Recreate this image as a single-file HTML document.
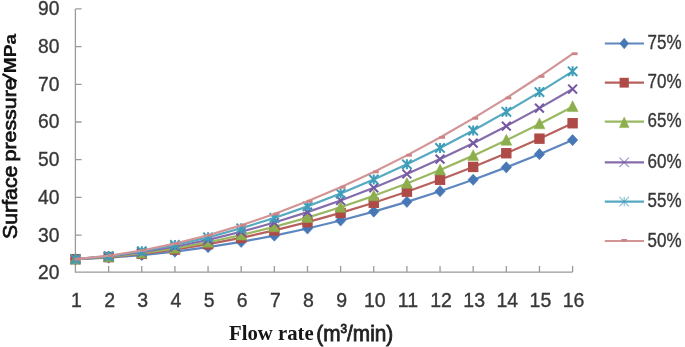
<!DOCTYPE html>
<html><head><meta charset="utf-8"><style>
html,body{margin:0;padding:0;background:#fff;}
svg{display:block;font-family:"Liberation Sans",sans-serif;filter:blur(0.6px);}
</style></head><body>
<svg width="685" height="347" viewBox="0 0 685 347">
<rect width="685" height="347" fill="#fff"/>
<path d="M75.4 8.90V272.1H572.60" stroke="#9a9a9a" stroke-width="1.3" fill="none"/>
<path d="M75.4 235.10h6.2M75.4 197.40h6.2M75.4 159.70h6.2M75.4 122.00h6.2M75.4 84.30h6.2M75.4 46.60h6.2M75.4 8.90h6.2M108.64 272.1v-6M141.78 272.1v-6M174.92 272.1v-6M208.06 272.1v-6M241.20 272.1v-6M274.34 272.1v-6M307.48 272.1v-6M340.62 272.1v-6M373.76 272.1v-6M406.90 272.1v-6M440.04 272.1v-6M473.18 272.1v-6M506.32 272.1v-6M539.46 272.1v-6M572.60 272.1v-6" stroke="#9a9a9a" stroke-width="1.3" fill="none"/>
<polyline points="75.50,259.21 108.64,257.63 141.78,255.08 174.92,251.62 208.06,247.18 241.20,241.87 274.34,235.63 307.48,228.52 340.62,220.51 373.76,211.60 406.90,201.86 440.04,191.21 473.18,179.74 506.32,167.37 539.46,154.17 572.60,140.10" stroke="#5d87be" stroke-width="2.2" fill="none" stroke-linejoin="round"/>
<path d="M75.50 253.61L80.70 259.21L75.50 264.81L70.30 259.21Z" fill="#4777B5" stroke="#4777B5" stroke-width="0.6" stroke-linejoin="round"/>
<path d="M108.64 252.03L113.84 257.63L108.64 263.23L103.44 257.63Z" fill="#4777B5" stroke="#4777B5" stroke-width="0.6" stroke-linejoin="round"/>
<path d="M141.78 249.48L146.98 255.08L141.78 260.68L136.58 255.08Z" fill="#4777B5" stroke="#4777B5" stroke-width="0.6" stroke-linejoin="round"/>
<path d="M174.92 246.02L180.12 251.62L174.92 257.22L169.72 251.62Z" fill="#4777B5" stroke="#4777B5" stroke-width="0.6" stroke-linejoin="round"/>
<path d="M208.06 241.58L213.26 247.18L208.06 252.78L202.86 247.18Z" fill="#4777B5" stroke="#4777B5" stroke-width="0.6" stroke-linejoin="round"/>
<path d="M241.20 236.27L246.40 241.87L241.20 247.47L236.00 241.87Z" fill="#4777B5" stroke="#4777B5" stroke-width="0.6" stroke-linejoin="round"/>
<path d="M274.34 230.03L279.54 235.63L274.34 241.23L269.14 235.63Z" fill="#4777B5" stroke="#4777B5" stroke-width="0.6" stroke-linejoin="round"/>
<path d="M307.48 222.92L312.68 228.52L307.48 234.12L302.28 228.52Z" fill="#4777B5" stroke="#4777B5" stroke-width="0.6" stroke-linejoin="round"/>
<path d="M340.62 214.91L345.82 220.51L340.62 226.11L335.42 220.51Z" fill="#4777B5" stroke="#4777B5" stroke-width="0.6" stroke-linejoin="round"/>
<path d="M373.76 206.00L378.96 211.60L373.76 217.20L368.56 211.60Z" fill="#4777B5" stroke="#4777B5" stroke-width="0.6" stroke-linejoin="round"/>
<path d="M406.90 196.26L412.10 201.86L406.90 207.46L401.70 201.86Z" fill="#4777B5" stroke="#4777B5" stroke-width="0.6" stroke-linejoin="round"/>
<path d="M440.04 185.61L445.24 191.21L440.04 196.81L434.84 191.21Z" fill="#4777B5" stroke="#4777B5" stroke-width="0.6" stroke-linejoin="round"/>
<path d="M473.18 174.14L478.38 179.74L473.18 185.34L467.98 179.74Z" fill="#4777B5" stroke="#4777B5" stroke-width="0.6" stroke-linejoin="round"/>
<path d="M506.32 161.77L511.52 167.37L506.32 172.97L501.12 167.37Z" fill="#4777B5" stroke="#4777B5" stroke-width="0.6" stroke-linejoin="round"/>
<path d="M539.46 148.57L544.66 154.17L539.46 159.77L534.26 154.17Z" fill="#4777B5" stroke="#4777B5" stroke-width="0.6" stroke-linejoin="round"/>
<path d="M572.60 134.50L577.80 140.10L572.60 145.70L567.40 140.10Z" fill="#4777B5" stroke="#4777B5" stroke-width="0.6" stroke-linejoin="round"/>
<polyline points="75.50,259.21 108.64,257.11 141.78,253.87 174.92,249.55 208.06,244.17 241.20,237.81 274.34,230.44 307.48,222.17 340.62,212.91 373.76,202.76 406.90,191.70 440.04,179.74 473.18,166.92 506.32,153.23 539.46,138.67 572.60,123.25" stroke="#b8605d" stroke-width="2.2" fill="none" stroke-linejoin="round"/>
<rect x="70.30" y="254.01" width="10.40" height="10.40" fill="#AE4A47"/>
<rect x="103.44" y="251.91" width="10.40" height="10.40" fill="#AE4A47"/>
<rect x="136.58" y="248.67" width="10.40" height="10.40" fill="#AE4A47"/>
<rect x="169.72" y="244.35" width="10.40" height="10.40" fill="#AE4A47"/>
<rect x="202.86" y="238.97" width="10.40" height="10.40" fill="#AE4A47"/>
<rect x="236.00" y="232.61" width="10.40" height="10.40" fill="#AE4A47"/>
<rect x="269.14" y="225.24" width="10.40" height="10.40" fill="#AE4A47"/>
<rect x="302.28" y="216.97" width="10.40" height="10.40" fill="#AE4A47"/>
<rect x="335.42" y="207.71" width="10.40" height="10.40" fill="#AE4A47"/>
<rect x="368.56" y="197.56" width="10.40" height="10.40" fill="#AE4A47"/>
<rect x="401.70" y="186.50" width="10.40" height="10.40" fill="#AE4A47"/>
<rect x="434.84" y="174.54" width="10.40" height="10.40" fill="#AE4A47"/>
<rect x="467.98" y="161.72" width="10.40" height="10.40" fill="#AE4A47"/>
<rect x="501.12" y="148.03" width="10.40" height="10.40" fill="#AE4A47"/>
<rect x="534.26" y="133.47" width="10.40" height="10.40" fill="#AE4A47"/>
<rect x="567.40" y="118.05" width="10.40" height="10.40" fill="#AE4A47"/>
<polyline points="75.50,259.21 108.64,256.84 141.78,253.19 174.92,248.34 208.06,242.29 241.20,235.14 274.34,226.91 307.48,217.58 340.62,207.24 373.76,195.84 406.90,183.43 440.04,170.04 473.18,155.63 506.32,140.29 539.46,123.93 572.60,106.67" stroke="#9ab861" stroke-width="2.2" fill="none" stroke-linejoin="round"/>
<path d="M75.50 253.21L81.00 264.11L70.00 264.11Z" fill="#8CAE4C" stroke="#8CAE4C" stroke-width="0.5" stroke-linejoin="round"/>
<path d="M108.64 250.84L114.14 261.74L103.14 261.74Z" fill="#8CAE4C" stroke="#8CAE4C" stroke-width="0.5" stroke-linejoin="round"/>
<path d="M141.78 247.19L147.28 258.09L136.28 258.09Z" fill="#8CAE4C" stroke="#8CAE4C" stroke-width="0.5" stroke-linejoin="round"/>
<path d="M174.92 242.34L180.42 253.24L169.42 253.24Z" fill="#8CAE4C" stroke="#8CAE4C" stroke-width="0.5" stroke-linejoin="round"/>
<path d="M208.06 236.29L213.56 247.19L202.56 247.19Z" fill="#8CAE4C" stroke="#8CAE4C" stroke-width="0.5" stroke-linejoin="round"/>
<path d="M241.20 229.14L246.70 240.04L235.70 240.04Z" fill="#8CAE4C" stroke="#8CAE4C" stroke-width="0.5" stroke-linejoin="round"/>
<path d="M274.34 220.91L279.84 231.81L268.84 231.81Z" fill="#8CAE4C" stroke="#8CAE4C" stroke-width="0.5" stroke-linejoin="round"/>
<path d="M307.48 211.58L312.98 222.48L301.98 222.48Z" fill="#8CAE4C" stroke="#8CAE4C" stroke-width="0.5" stroke-linejoin="round"/>
<path d="M340.62 201.24L346.12 212.14L335.12 212.14Z" fill="#8CAE4C" stroke="#8CAE4C" stroke-width="0.5" stroke-linejoin="round"/>
<path d="M373.76 189.84L379.26 200.74L368.26 200.74Z" fill="#8CAE4C" stroke="#8CAE4C" stroke-width="0.5" stroke-linejoin="round"/>
<path d="M406.90 177.43L412.40 188.33L401.40 188.33Z" fill="#8CAE4C" stroke="#8CAE4C" stroke-width="0.5" stroke-linejoin="round"/>
<path d="M440.04 164.04L445.54 174.94L434.54 174.94Z" fill="#8CAE4C" stroke="#8CAE4C" stroke-width="0.5" stroke-linejoin="round"/>
<path d="M473.18 149.63L478.68 160.53L467.68 160.53Z" fill="#8CAE4C" stroke="#8CAE4C" stroke-width="0.5" stroke-linejoin="round"/>
<path d="M506.32 134.29L511.82 145.19L500.82 145.19Z" fill="#8CAE4C" stroke="#8CAE4C" stroke-width="0.5" stroke-linejoin="round"/>
<path d="M539.46 117.93L544.96 128.83L533.96 128.83Z" fill="#8CAE4C" stroke="#8CAE4C" stroke-width="0.5" stroke-linejoin="round"/>
<path d="M572.60 100.67L578.10 111.57L567.10 111.57Z" fill="#8CAE4C" stroke="#8CAE4C" stroke-width="0.5" stroke-linejoin="round"/>
<polyline points="75.50,259.21 108.64,256.47 141.78,252.25 174.92,246.73 208.06,239.88 241.20,231.79 274.34,222.54 307.48,212.09 340.62,200.50 373.76,187.79 406.90,173.99 440.04,159.09 473.18,143.15 506.32,126.15 539.46,108.10 572.60,89.03" stroke="#856cab" stroke-width="2.2" fill="none" stroke-linejoin="round"/>
<path d="M71.10 254.81L79.90 263.61M79.90 254.81L71.10 263.61" stroke="#7458A0" stroke-width="2.0" fill="none"/>
<path d="M104.24 252.07L113.04 260.87M113.04 252.07L104.24 260.87" stroke="#7458A0" stroke-width="2.0" fill="none"/>
<path d="M137.38 247.85L146.18 256.65M146.18 247.85L137.38 256.65" stroke="#7458A0" stroke-width="2.0" fill="none"/>
<path d="M170.52 242.33L179.32 251.13M179.32 242.33L170.52 251.13" stroke="#7458A0" stroke-width="2.0" fill="none"/>
<path d="M203.66 235.48L212.46 244.28M212.46 235.48L203.66 244.28" stroke="#7458A0" stroke-width="2.0" fill="none"/>
<path d="M236.80 227.39L245.60 236.19M245.60 227.39L236.80 236.19" stroke="#7458A0" stroke-width="2.0" fill="none"/>
<path d="M269.94 218.14L278.74 226.94M278.74 218.14L269.94 226.94" stroke="#7458A0" stroke-width="2.0" fill="none"/>
<path d="M303.08 207.69L311.88 216.49M311.88 207.69L303.08 216.49" stroke="#7458A0" stroke-width="2.0" fill="none"/>
<path d="M336.22 196.10L345.02 204.90M345.02 196.10L336.22 204.90" stroke="#7458A0" stroke-width="2.0" fill="none"/>
<path d="M369.36 183.39L378.16 192.19M378.16 183.39L369.36 192.19" stroke="#7458A0" stroke-width="2.0" fill="none"/>
<path d="M402.50 169.59L411.30 178.39M411.30 169.59L402.50 178.39" stroke="#7458A0" stroke-width="2.0" fill="none"/>
<path d="M435.64 154.69L444.44 163.49M444.44 154.69L435.64 163.49" stroke="#7458A0" stroke-width="2.0" fill="none"/>
<path d="M468.78 138.75L477.58 147.55M477.58 138.75L468.78 147.55" stroke="#7458A0" stroke-width="2.0" fill="none"/>
<path d="M501.92 121.75L510.72 130.55M510.72 121.75L501.92 130.55" stroke="#7458A0" stroke-width="2.0" fill="none"/>
<path d="M535.06 103.70L543.86 112.50M543.86 103.70L535.06 112.50" stroke="#7458A0" stroke-width="2.0" fill="none"/>
<path d="M568.20 84.63L577.00 93.43M577.00 84.63L568.20 93.43" stroke="#7458A0" stroke-width="2.0" fill="none"/>
<polyline points="75.50,259.21 108.64,256.05 141.78,251.28 174.92,245.00 208.06,237.32 241.20,228.30 274.34,217.99 307.48,206.37 340.62,193.55 373.76,179.52 406.90,164.32 440.04,147.96 473.18,130.47 506.32,111.86 539.46,92.11 572.60,71.31" stroke="#55a9c1" stroke-width="2.2" fill="none" stroke-linejoin="round"/>
<path d="M70.80 254.51L80.20 263.91M80.20 254.51L70.80 263.91M75.50 254.21L75.50 264.21" stroke="#3E9DB8" stroke-width="2.0" fill="none"/>
<path d="M103.94 251.35L113.34 260.75M113.34 251.35L103.94 260.75M108.64 251.05L108.64 261.05" stroke="#3E9DB8" stroke-width="2.0" fill="none"/>
<path d="M137.08 246.58L146.48 255.98M146.48 246.58L137.08 255.98M141.78 246.28L141.78 256.28" stroke="#3E9DB8" stroke-width="2.0" fill="none"/>
<path d="M170.22 240.30L179.62 249.70M179.62 240.30L170.22 249.70M174.92 240.00L174.92 250.00" stroke="#3E9DB8" stroke-width="2.0" fill="none"/>
<path d="M203.36 232.62L212.76 242.02M212.76 232.62L203.36 242.02M208.06 232.32L208.06 242.32" stroke="#3E9DB8" stroke-width="2.0" fill="none"/>
<path d="M236.50 223.60L245.90 233.00M245.90 223.60L236.50 233.00M241.20 223.30L241.20 233.30" stroke="#3E9DB8" stroke-width="2.0" fill="none"/>
<path d="M269.64 213.29L279.04 222.69M279.04 213.29L269.64 222.69M274.34 212.99L274.34 222.99" stroke="#3E9DB8" stroke-width="2.0" fill="none"/>
<path d="M302.78 201.67L312.18 211.07M312.18 201.67L302.78 211.07M307.48 201.37L307.48 211.37" stroke="#3E9DB8" stroke-width="2.0" fill="none"/>
<path d="M335.92 188.85L345.32 198.25M345.32 188.85L335.92 198.25M340.62 188.55L340.62 198.55" stroke="#3E9DB8" stroke-width="2.0" fill="none"/>
<path d="M369.06 174.82L378.46 184.22M378.46 174.82L369.06 184.22M373.76 174.52L373.76 184.52" stroke="#3E9DB8" stroke-width="2.0" fill="none"/>
<path d="M402.20 159.62L411.60 169.02M411.60 159.62L402.20 169.02M406.90 159.32L406.90 169.32" stroke="#3E9DB8" stroke-width="2.0" fill="none"/>
<path d="M435.34 143.26L444.74 152.66M444.74 143.26L435.34 152.66M440.04 142.96L440.04 152.96" stroke="#3E9DB8" stroke-width="2.0" fill="none"/>
<path d="M468.48 125.77L477.88 135.17M477.88 125.77L468.48 135.17M473.18 125.47L473.18 135.47" stroke="#3E9DB8" stroke-width="2.0" fill="none"/>
<path d="M501.62 107.16L511.02 116.56M511.02 107.16L501.62 116.56M506.32 106.86L506.32 116.86" stroke="#3E9DB8" stroke-width="2.0" fill="none"/>
<path d="M534.76 87.41L544.16 96.81M544.16 87.41L534.76 96.81M539.46 87.11L539.46 97.11" stroke="#3E9DB8" stroke-width="2.0" fill="none"/>
<path d="M567.90 66.61L577.30 76.01M577.30 66.61L567.90 76.01M572.60 66.31L572.60 76.31" stroke="#3E9DB8" stroke-width="2.0" fill="none"/>
<polyline points="75.50,259.21 108.64,255.75 141.78,250.49 174.92,243.60 208.06,235.22 241.20,225.33 274.34,214.01 307.48,201.33 340.62,187.30 373.76,172.00 406.90,155.37 440.04,137.51 473.18,118.40 506.32,98.09 539.46,76.54 572.60,53.82" stroke="#d29495" stroke-width="2.2" fill="none" stroke-linejoin="round"/>
<rect x="74.70" y="257.71" width="5.8" height="2.8" fill="#CC8587"/>
<rect x="107.84" y="254.25" width="5.8" height="2.8" fill="#CC8587"/>
<rect x="140.98" y="248.99" width="5.8" height="2.8" fill="#CC8587"/>
<rect x="174.12" y="242.10" width="5.8" height="2.8" fill="#CC8587"/>
<rect x="207.26" y="233.72" width="5.8" height="2.8" fill="#CC8587"/>
<rect x="240.40" y="223.83" width="5.8" height="2.8" fill="#CC8587"/>
<rect x="273.54" y="212.51" width="5.8" height="2.8" fill="#CC8587"/>
<rect x="306.68" y="199.83" width="5.8" height="2.8" fill="#CC8587"/>
<rect x="339.82" y="185.80" width="5.8" height="2.8" fill="#CC8587"/>
<rect x="372.96" y="170.50" width="5.8" height="2.8" fill="#CC8587"/>
<rect x="406.10" y="153.87" width="5.8" height="2.8" fill="#CC8587"/>
<rect x="439.24" y="136.01" width="5.8" height="2.8" fill="#CC8587"/>
<rect x="472.38" y="116.90" width="5.8" height="2.8" fill="#CC8587"/>
<rect x="505.52" y="96.59" width="5.8" height="2.8" fill="#CC8587"/>
<rect x="538.66" y="75.04" width="5.8" height="2.8" fill="#CC8587"/>
<rect x="571.80" y="52.32" width="5.8" height="2.8" fill="#CC8587"/>
<text x="59.4" y="279.48" text-anchor="end" font-size="20" fill="#383838" stroke="#383838" stroke-width="0.35" textLength="21.4" lengthAdjust="spacingAndGlyphs">20</text>
<text x="59.4" y="241.69" text-anchor="end" font-size="20" fill="#383838" stroke="#383838" stroke-width="0.35" textLength="21.4" lengthAdjust="spacingAndGlyphs">30</text>
<text x="59.4" y="203.90" text-anchor="end" font-size="20" fill="#383838" stroke="#383838" stroke-width="0.35" textLength="21.4" lengthAdjust="spacingAndGlyphs">40</text>
<text x="59.4" y="166.11" text-anchor="end" font-size="20" fill="#383838" stroke="#383838" stroke-width="0.35" textLength="21.4" lengthAdjust="spacingAndGlyphs">50</text>
<text x="59.4" y="128.32" text-anchor="end" font-size="20" fill="#383838" stroke="#383838" stroke-width="0.35" textLength="21.4" lengthAdjust="spacingAndGlyphs">60</text>
<text x="59.4" y="90.53" text-anchor="end" font-size="20" fill="#383838" stroke="#383838" stroke-width="0.35" textLength="21.4" lengthAdjust="spacingAndGlyphs">70</text>
<text x="59.4" y="52.74" text-anchor="end" font-size="20" fill="#383838" stroke="#383838" stroke-width="0.35" textLength="21.4" lengthAdjust="spacingAndGlyphs">80</text>
<text x="59.4" y="14.95" text-anchor="end" font-size="20" fill="#383838" stroke="#383838" stroke-width="0.35" textLength="21.4" lengthAdjust="spacingAndGlyphs">90</text>
<text x="76.50" y="307" text-anchor="middle" font-size="19.5" fill="#383838" stroke="#383838" stroke-width="0.35">1</text>
<text x="109.64" y="307" text-anchor="middle" font-size="19.5" fill="#383838" stroke="#383838" stroke-width="0.35">2</text>
<text x="142.78" y="307" text-anchor="middle" font-size="19.5" fill="#383838" stroke="#383838" stroke-width="0.35">3</text>
<text x="175.92" y="307" text-anchor="middle" font-size="19.5" fill="#383838" stroke="#383838" stroke-width="0.35">4</text>
<text x="209.06" y="307" text-anchor="middle" font-size="19.5" fill="#383838" stroke="#383838" stroke-width="0.35">5</text>
<text x="242.20" y="307" text-anchor="middle" font-size="19.5" fill="#383838" stroke="#383838" stroke-width="0.35">6</text>
<text x="275.34" y="307" text-anchor="middle" font-size="19.5" fill="#383838" stroke="#383838" stroke-width="0.35">7</text>
<text x="308.48" y="307" text-anchor="middle" font-size="19.5" fill="#383838" stroke="#383838" stroke-width="0.35">8</text>
<text x="341.62" y="307" text-anchor="middle" font-size="19.5" fill="#383838" stroke="#383838" stroke-width="0.35">9</text>
<text x="374.76" y="307" text-anchor="middle" font-size="19.5" fill="#383838" stroke="#383838" stroke-width="0.35">10</text>
<text x="407.90" y="307" text-anchor="middle" font-size="19.5" fill="#383838" stroke="#383838" stroke-width="0.35">11</text>
<text x="441.04" y="307" text-anchor="middle" font-size="19.5" fill="#383838" stroke="#383838" stroke-width="0.35">12</text>
<text x="474.18" y="307" text-anchor="middle" font-size="19.5" fill="#383838" stroke="#383838" stroke-width="0.35">13</text>
<text x="507.32" y="307" text-anchor="middle" font-size="19.5" fill="#383838" stroke="#383838" stroke-width="0.35">14</text>
<text x="540.46" y="307" text-anchor="middle" font-size="19.5" fill="#383838" stroke="#383838" stroke-width="0.35">15</text>
<text x="573.60" y="307" text-anchor="middle" font-size="19.5" fill="#383838" stroke="#383838" stroke-width="0.35">16</text>
<path d="M604.8 43.50H644" stroke="#5d87be" stroke-width="2.2"/>
<path d="M624.20 38.20L628.60 43.50L624.20 48.80L619.80 43.50Z" fill="#4777B5" stroke="#4777B5" stroke-width="0.6" stroke-linejoin="round"/>
<text x="647.6" y="49.20" font-size="20" fill="#383838" stroke="#383838" stroke-width="0.35" textLength="34.0" lengthAdjust="spacingAndGlyphs">75%</text>
<path d="M604.8 82.60H644" stroke="#b8605d" stroke-width="2.2"/>
<rect x="619.60" y="77.80" width="9.2" height="9.8" fill="#AE4A47"/>
<text x="647.6" y="88.30" font-size="20" fill="#383838" stroke="#383838" stroke-width="0.35" textLength="34.0" lengthAdjust="spacingAndGlyphs">70%</text>
<path d="M604.8 121.60H644" stroke="#9ab861" stroke-width="2.2"/>
<path d="M624.20 117.00L629.00 127.60L619.40 127.60Z" fill="#8CAE4C" stroke="#8CAE4C" stroke-width="0.5" stroke-linejoin="round"/>
<text x="647.6" y="127.30" font-size="20" fill="#383838" stroke="#383838" stroke-width="0.35" textLength="34.0" lengthAdjust="spacingAndGlyphs">65%</text>
<path d="M604.8 162.30H644" stroke="#856cab" stroke-width="2.2"/>
<path d="M619.50 157.60L628.90 167.00M628.90 157.60L619.50 167.00" stroke="#7458A0" stroke-width="1.1" fill="none" opacity="0.65"/>
<text x="647.6" y="168.00" font-size="20" fill="#383838" stroke="#383838" stroke-width="0.35" textLength="34.0" lengthAdjust="spacingAndGlyphs">60%</text>
<path d="M604.8 201.60H644" stroke="#55a9c1" stroke-width="2.2"/>
<path d="M619.50 196.90L628.90 206.30M628.90 196.90L619.50 206.30M624.20 196.90L624.20 206.30" stroke="#3E9DB8" stroke-width="1.1" fill="none" opacity="0.65"/>
<text x="647.6" y="207.30" font-size="20" fill="#383838" stroke="#383838" stroke-width="0.35" textLength="34.0" lengthAdjust="spacingAndGlyphs">55%</text>
<path d="M604.8 241.00H644" stroke="#d29495" stroke-width="2.2"/>
<rect x="621.40" y="239.00" width="5.6" height="2.6" fill="#CC8587"/>
<text x="647.6" y="246.70" font-size="20" fill="#383838" stroke="#383838" stroke-width="0.35" textLength="34.0" lengthAdjust="spacingAndGlyphs">50%</text>
<text x="229" y="339.6" font-family="Liberation Serif" font-weight="bold" font-size="21" fill="#161616" textLength="84.6" lengthAdjust="spacingAndGlyphs">Flow rate</text>
<text x="316.3" y="340.7" font-size="21.3" fill="#222" stroke="#222" stroke-width="0.8" textLength="77.0" lengthAdjust="spacingAndGlyphs">(m<tspan font-size="12" dy="-7.6">3</tspan><tspan dy="7.6">/min)</tspan></text>
<text transform="translate(16.6 239.0) rotate(-90)" x="0" y="0" font-weight="normal" font-size="20" fill="#111" stroke="#111" stroke-width="0.7" textLength="73.40" lengthAdjust="spacingAndGlyphs">Surface</text>
<text transform="translate(16.4 161.5) rotate(-90)" x="0" y="0" font-weight="normal" font-size="19" fill="#111" stroke="#111" stroke-width="0.7" textLength="83.20" lengthAdjust="spacingAndGlyphs">pressure</text>
<text transform="translate(15.7 73.2) rotate(-90)" x="0" y="0" font-weight="bold" font-size="17" fill="#111" stroke="#111" stroke-width="0.2" textLength="39.40" lengthAdjust="spacingAndGlyphs">MPa</text>
<path d="M16.6 81.2L2.4 73.9" stroke="#111" stroke-width="2.3" stroke-linecap="butt"/>
</svg>
</body></html>
